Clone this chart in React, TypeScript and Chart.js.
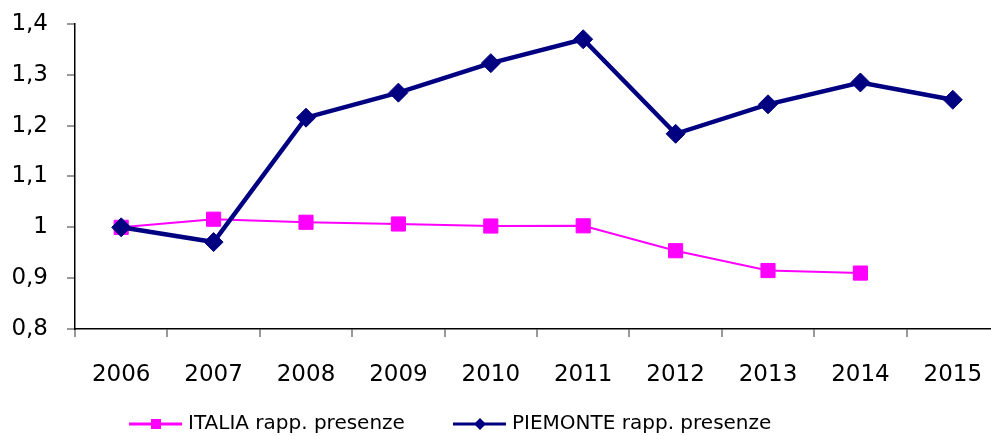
import React, { useEffect, useRef } from "react";
import { Chart, registerables } from "chart.js";

Chart.register(...registerables);

const years = ["2006", "2007", "2008", "2009", "2010", "2011", "2012", "2013", "2014", "2015"];
const italia: (number | null)[] = [1.0, 1.016, 1.01, 1.0066, 1.0026, 1.003, 0.954, 0.915, 0.91, null];
const piemonte: number[] = [1.0, 0.971, 1.2157, 1.265, 1.323, 1.37, 1.184, 1.242, 1.285, 1.251];
const italiaLabel = "ITALIA rapp. presenze";
const piemonteLabel = "PIEMONTE rapp. presenze";
const yMin = 0.8;
const yMax = 1.4;
const yStep = 0.1;

const PINK = "#FF00FF";
const NAVY = "#000080";
const FONT = "'DejaVu Sans', Verdana, sans-serif";

const legendPlugin = {
  id: "customLegend",
  afterDraw(chart: any) {
    const ctx = chart.ctx;
    ctx.save();
    const y = 424;
    // ITALIA
    ctx.strokeStyle = PINK;
    ctx.lineWidth = 3;
    ctx.beginPath();
    ctx.moveTo(129, y);
    ctx.lineTo(182, y);
    ctx.stroke();
    ctx.fillStyle = PINK;
    ctx.fillRect(156 - 5, y - 5, 10, 10);
    // PIEMONTE
    ctx.strokeStyle = NAVY;
    ctx.lineWidth = 3;
    ctx.beginPath();
    ctx.moveTo(453, y);
    ctx.lineTo(506, y);
    ctx.stroke();
    ctx.fillStyle = NAVY;
    ctx.beginPath();
    ctx.moveTo(480, y - 6);
    ctx.lineTo(486, y);
    ctx.lineTo(480, y + 6);
    ctx.lineTo(474, y);
    ctx.closePath();
    ctx.fill();
    ctx.fillStyle = "#000";
    ctx.font = `20px ${FONT}`;
    ctx.textBaseline = "middle";
    ctx.textAlign = "left";
    ctx.fillText(italiaLabel, 188, y);
    ctx.fillText(piemonteLabel, 512, y);
    ctx.restore();
  },
};

export default function App() {
  const ref = useRef<HTMLCanvasElement | null>(null);
  useEffect(() => {
    if (!ref.current) return;
    const chart = new Chart(ref.current, {
      type: "line",
      data: {
        labels: years,
        datasets: [
          {
            label: piemonteLabel,
            data: piemonte,
            borderColor: NAVY,
            backgroundColor: NAVY,
            borderWidth: 4.5,
            pointStyle: "rectRot",
            pointRadius: 9.5,
            pointBorderWidth: 1,
            pointBackgroundColor: NAVY,
            pointBorderColor: NAVY,
            tension: 0,
            clip: false,
          },
          {
            label: italiaLabel,
            data: italia,
            borderColor: PINK,
            backgroundColor: PINK,
            borderWidth: 2,
            pointStyle: "rect",
            pointRadius: 10,
            pointBorderWidth: 1,
            pointBackgroundColor: PINK,
            pointBorderColor: PINK,
            tension: 0,
            spanGaps: false,
            clip: false,
          },
        ],
      },
      options: {
        animation: false,
        responsive: false,
        devicePixelRatio: 1,
        layout: { padding: { top: 24, left: 0, right: 8, bottom: 0 } },
        plugins: {
          legend: { display: false },
          tooltip: { enabled: false },
        },
        scales: {
          x: {
            type: "category",
            offset: true,
            grid: {
              offset: true,
              drawOnChartArea: false,
              drawTicks: true,
              tickLength: 8,
              color: "#999999",
              lineWidth: 2,
            },
            border: { display: true, color: "#000000", width: 1.5 },
            ticks: {
              color: "#000",
              font: { family: FONT, size: 23 },
              padding: 24,
              maxRotation: 0,
              autoSkip: false,
            },
            afterFit(scale: any) {
              scale.height = 107;
              scale.paddingLeft = 0;
              scale.paddingRight = 0;
            },
          },
          y: {
            min: yMin,
            max: yMax,
            grid: {
              drawOnChartArea: false,
              drawTicks: true,
              tickLength: 8,
              color: "#999999",
              lineWidth: 2,
            },
            border: { display: true, color: "#000000", width: 1.5 },
            ticks: {
              stepSize: yStep,
              color: "#000",
              font: { family: FONT, size: 23 },
              padding: 19,
              callback: (v: any) => {
                const n = Math.round(Number(v) * 10) / 10;
                return n.toString().replace(".", ",");
              },
            },
            afterFit(scale: any) {
              scale.width = 75;
              scale.paddingTop = 0;
              scale.paddingBottom = 0;
            },
          },
        },
      },
      plugins: [legendPlugin],
    });
    return () => chart.destroy();
  }, []);
  return (
    <div
      style={{
        position: "absolute",
        left: 0,
        top: 0,
        width: 991,
        height: 436,
        overflow: "hidden",
        background: "#fff",
      }}
    >
      <canvas ref={ref} width={1010} height={436} style={{ width: 1010, height: 436, display: "block" }} />
    </div>
  );
}
